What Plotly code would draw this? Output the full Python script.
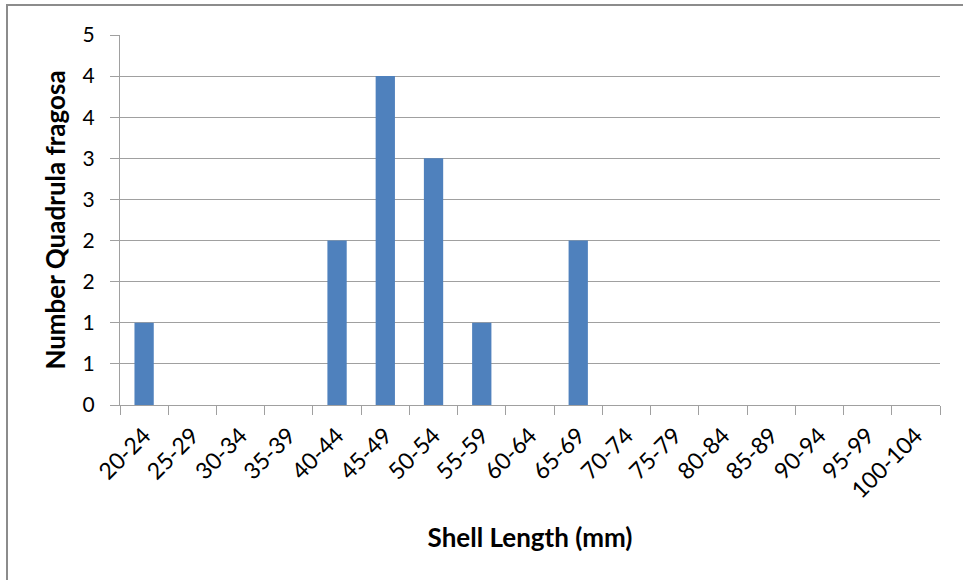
import plotly.graph_objects as go

# Shell length size classes (mm) and counts of Quadrula fragosa
size_classes = ["20-24", "25-29", "30-34", "35-39", "40-44", "45-49", "50-54",
                "55-59", "60-64", "65-69", "70-74", "75-79", "80-84", "85-89",
                "90-94", "95-99", "100-104"]
counts = [1, 0, 0, 0, 2, 4, 3, 1, 0, 2, 0, 0, 0, 0, 0, 0, 0]

# y ticks every 0.5, shown as whole numbers
y_tickvals = [0, 0.5, 1, 1.5, 2, 2.5, 3, 3.5, 4, 4.5]
y_ticktext = ["0", "1", "1", "2", "2", "3", "3", "4", "4", "5"]

FONT = "Lato"
GRID = "#a0a0a0"

fig = go.Figure(go.Bar(x=size_classes, y=counts, marker_color="#4F81BD",
                       marker_line_width=0))

W, H = 963, 580
ml, mr, mt, mb = 120, 23, 35, 175
pw, ph = W - ml - mr, H - mt - mb

def px_x(x):
    return (x - ml) / pw

def px_y(y):
    return (H - mb - y) / ph

fig.update_layout(
    width=W, height=H,
    margin=dict(l=ml, r=mr, t=mt, b=mb),
    paper_bgcolor="white", plot_bgcolor="white",
    bargap=0.6, showlegend=False,
    font=dict(family=FONT, color="#000000"),
    xaxis=dict(
        type="category", tickson="boundaries", ticks="outside", ticklen=9,
        tickcolor=GRID, tickwidth=1, showline=True, linecolor=GRID, linewidth=1,
        tickangle=-45, tickfont=dict(size=23, family=FONT), ticklabelstandoff=7,
        showgrid=False,
        title=dict(text="<b>Shell Length (mm)</b>", font=dict(size=26, family=FONT),
                   standoff=26),
    ),
    yaxis=dict(
        range=[0, 4.5], tickvals=y_tickvals, ticktext=y_ticktext,
        ticks="outside", ticklen=9, tickcolor=GRID, tickwidth=1,
        showline=True, linecolor=GRID, linewidth=1,
        showgrid=True, gridcolor=GRID, gridwidth=1,
        tickfont=dict(size=21, family=FONT), ticklabelstandoff=11,
        zeroline=False,
        title=dict(text="<b>Number Quadrula fragosa</b>", font=dict(size=26, family=FONT),
                   standoff=9),
    ),
    shapes=[dict(type="rect", xref="paper", yref="paper",
                 x0=px_x(7), x1=px_x(975), y0=px_y(590), y1=px_y(5),
                 line=dict(color="#8c8c8c", width=2), layer="below")],
)

fig.write_html("out.html")
